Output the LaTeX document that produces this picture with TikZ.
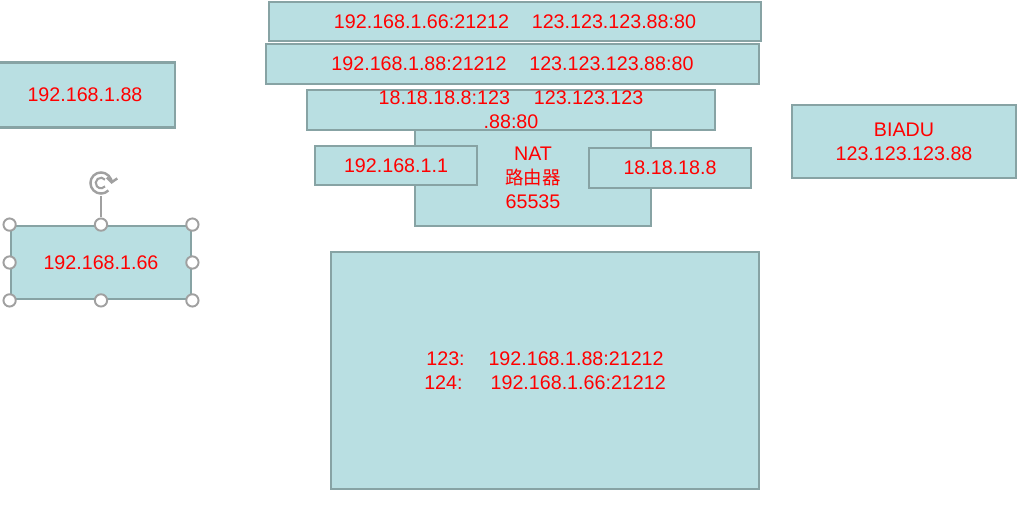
\documentclass[tikz,border=0pt]{standalone}
\usepackage{fontspec}
\setmainfont{Liberation Sans}
\newfontfamily\cjk{Noto Sans CJK SC}
\usetikzlibrary{arrows.meta, positioning}
\definecolor{boxfill}{RGB}{185,223,226}
\definecolor{boxline}{RGB}{135,163,164}
\definecolor{handlecol}{RGB}{160,160,160}

\begin{document}
\begin{tikzpicture}[x=0.02cm, y=-0.02cm,
    font=\fontsize{11.2}{13.8}\selectfont,
    box/.style={draw=boxline, fill=boxfill, line width=1.6pt, text=red, inner sep=0pt, align=center},
    lbl/.style={text=red, inner sep=0pt, align=center},
    handle/.style={circle, draw=handlecol, fill=white, line width=1.1pt, minimum size=7pt, inner sep=0pt},
    handleline/.style={draw=handlecol, line width=0.8pt}]
    \useasboundingbox (0,0) rectangle (1020,507);

    % hosts on the left
    \node[box, minimum width=3.6cm, minimum height=1.3cm] (pc88) at (85,95) {192.168.1.88};
    \node[box, minimum width=3.6cm, minimum height=1.46cm] (pc66) at (101,262.5) {192.168.1.66};

    % selection handles
    \foreach \a/\n in {north west/nw, north/n, north east/ne, west/w, east/e, south west/sw, south/s, south east/se}
        \node[handle] (h-\n) at (pc66.\a) {};
    \node[circle, minimum size=0.5cm, inner sep=0pt] (rot) at (101,183) {};
    \draw[handleline] (rot) -- (h-n);
    \draw[handlecol, line width=1.4pt, -{Straight Barb[length=2.5pt, width=6pt]}]
        (rot.center) ++(-45:6pt) arc[start angle=-45, end angle=-365, radius=6pt];
    \draw[handlecol, line width=1.2pt]
        (rot.center) ++(40:3pt) arc[start angle=40, end angle=320, radius=3pt];

    % router
    \node[box, minimum width=4.72cm, minimum height=1.92cm] (nat) at (533,178)
        {NAT\\{\cjk\fontsize{10.5}{13.8}\selectfont 路由器}\\65535};
    \node[box, minimum width=3.24cm, minimum height=0.78cm] (lan) at (396,165.5) {192.168.1.1};
    \node[box, minimum width=3.24cm, minimum height=0.8cm] (wan) at (670,168) {18.18.18.8};

    % mapping entries
    \node[box, minimum width=9.84cm, minimum height=0.78cm] (map66) at (515,21.5)
        {192.168.1.66:21212\hspace{13pt}123.123.123.88:80};
    \node[box, minimum width=9.86cm, minimum height=0.8cm] (map88) at (512.5,64)
        {192.168.1.88:21212\hspace{13pt}123.123.123.88:80};
    \node[box, minimum width=8.16cm, minimum height=0.8cm] (map18) at (511,110) {};
    \node[lbl] at (map18) {18.18.18.8:123\hspace{13.6pt}123.123.123\\.88:80};

    % server
    \node[box, minimum width=4.48cm, minimum height=1.46cm] (baidu) at (904,141.5)
        {BIADU\\123.123.123.88};

    % port table
    \node[box, minimum width=8.56cm, minimum height=4.74cm] (table) at (545,370.5)
        {123:\hspace{13.6pt}192.168.1.88:21212\\124:\hspace{16pt}192.168.1.66:21212};
\end{tikzpicture}
\end{document}
